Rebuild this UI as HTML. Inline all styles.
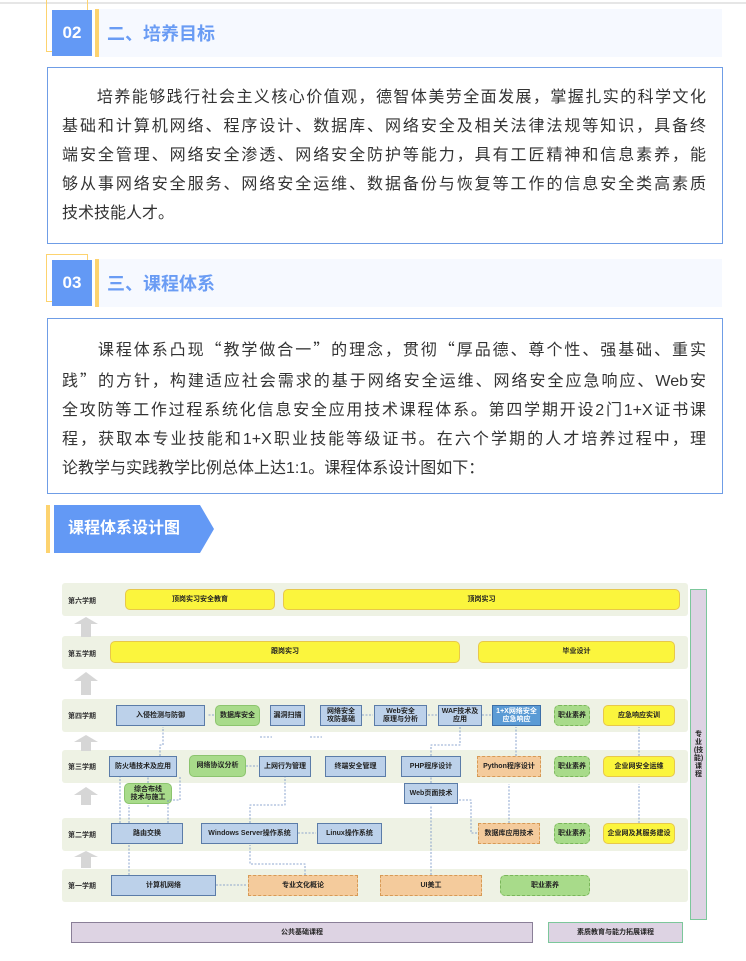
<!DOCTYPE html>
<html><head><meta charset="utf-8"><style>
*{margin:0;padding:0;box-sizing:border-box}
body{width:746px;height:961px;background:#fff;position:relative;overflow:hidden;font-family:"Liberation Sans","Noto Sans CJK SC",sans-serif}
.a{position:absolute}
.num{background:#6399f5;color:#fff;font-weight:bold;font-size:17px;display:flex;align-items:center;justify-content:center}
.ttl{color:#6a9cf4;font-weight:bold;font-size:18px;background:#f6f9ff;padding-left:8px;display:flex;align-items:center;border-left:4px solid #fdd36f}
.box{border:1px solid #6f9de6}
.p{font-size:16px;color:#333;line-height:29px;letter-spacing:0}
.p div{text-align:justify;text-align-last:justify;white-space:nowrap}
.p div.l{text-align-last:left}
.q{font-family:"Noto Sans CJK SC",sans-serif}
.row{background:#eef2e4;border-radius:3px}
.sem{font-size:7px;font-weight:bold;color:#333}
.n{display:flex;align-items:center;justify-content:center;text-align:center;font-size:7px;font-weight:bold;color:#222;line-height:8px}
.b{background:#bcd1ea;border:1.5px solid #5b7ca8}
.y{background:#fbf53d;border:1.5px solid #e8c84a;border-radius:5px}
.g{background:#a8db8a;border:1.5px solid #8cc46e;border-radius:5px}
.gd{background:#a8db8a;border:1.5px dashed #7ab65a;border-radius:5px}
.o{background:#f4cb9c;border:1.5px dashed #d79a55}
</style></head><body>
<div class="a" style="left:0;top:2px;width:746px;height:2px;background:#e6e6e6"></div>

<!-- header 02 -->
<div class="a" style="left:46px;top:0;width:42px;height:52px;border:1px solid #fdd36f;border-top:none"></div>
<div class="a num" style="left:52px;top:10px;width:40px;height:46px">02</div>
<div class="a ttl" style="left:95px;top:9px;width:627px;height:48px">二、培养目标</div>
<div class="a box" style="left:47px;top:67px;width:676px;height:177px"></div>
<div class="a p" style="left:62px;top:83px;width:644px">
<div>　　培养能够践行社会主义核心价值观，德智体美劳全面发展，掌握扎实的科学文化</div>
<div>基础和计算机网络、程序设计、数据库、网络安全及相关法律法规等知识，具备终</div>
<div>端安全管理、网络安全渗透、网络安全防护等能力，具有工匠精神和信息素养，能</div>
<div>够从事网络安全服务、网络安全运维、数据备份与恢复等工作的信息安全类高素质</div>
<div class="l">技术技能人才。</div>
</div>

<!-- header 03 -->
<div class="a" style="left:46px;top:254px;width:42px;height:48px;border:1px solid #fdd36f"></div>
<div class="a num" style="left:52px;top:260px;width:40px;height:46px">03</div>
<div class="a ttl" style="left:95px;top:259px;width:627px;height:48px">三、课程体系</div>
<div class="a box" style="left:47px;top:318px;width:676px;height:176px"></div>
<div class="a p" style="left:62px;top:334px;width:644px">
<div>　　课程体系凸现<span class="q">“</span>教学做合一<span class="q">”</span>的理念，贯彻<span class="q">“</span>厚品德、尊个性、强基础、重实</div>
<div>践<span class="q">”</span>的方针，构建适应社会需求的基于网络安全运维、网络安全应急响应、Web安</div>
<div>全攻防等工作过程系统化信息安全应用技术课程体系。第四学期开设2门1+X证书课</div>
<div>程，获取本专业技能和1+X职业技能等级证书。在六个学期的人才培养过程中，理</div>
<div class="l">论教学与实践教学比例总体上达1:1。课程体系设计图如下：</div>
</div>

<!-- banner -->
<div class="a" style="left:46px;top:505px;width:4px;height:48px;background:#fdd36f"></div>
<svg class="a" style="left:54px;top:505px" width="162" height="48"><polygon points="0,0 146,0 160,24 146,48 0,48" fill="#6399f5"/></svg>
<div class="a" style="left:68px;top:505px;height:48px;line-height:48px;color:#fff;font-weight:bold;font-size:16px">课程体系设计图</div>

<!-- diagram rows -->
<div class="a row" style="left:62px;top:583px;width:626px;height:33px"></div>
<div class="a row" style="left:62px;top:636px;width:626px;height:33px"></div>
<div class="a row" style="left:62px;top:699px;width:626px;height:33px"></div>
<div class="a row" style="left:62px;top:750px;width:626px;height:33px"></div>
<div class="a row" style="left:62px;top:818px;width:626px;height:33px"></div>
<div class="a row" style="left:62px;top:869px;width:626px;height:33px"></div>

<div class="a sem" style="left:68px;top:596px">第六学期</div>
<div class="a sem" style="left:68px;top:649px">第五学期</div>
<div class="a sem" style="left:68px;top:711px">第四学期</div>
<div class="a sem" style="left:68px;top:762px">第三学期</div>
<div class="a sem" style="left:68px;top:830px">第二学期</div>
<div class="a sem" style="left:68px;top:881px">第一学期</div>

<svg class="a" style="left:72px;top:615px" width="28" height="260">
<g fill="#d6d6d6">
<polygon points="14,2 26,9 19,9 19,22 9,22 9,9 2,9"/>
<polygon points="14,57 26,66 19,66 19,80 9,80 9,66 2,66"/>
<polygon points="14,120 26,127 19,127 19,136 9,136 9,127 2,127"/>
<polygon points="14,172 26,180 19,180 19,190 9,190 9,180 2,180"/>
<polygon points="14,236 26,242 19,242 19,253 9,253 9,242 2,242"/>
</g></svg>

<div class="a n y" style="left:125px;top:589px;width:150px;height:21px">顶岗实习安全教育</div>
<div class="a n y" style="left:283px;top:589px;width:397px;height:21px">顶岗实习</div>
<div class="a n y" style="left:110px;top:641px;width:350px;height:22px">跟岗实习</div>
<div class="a n y" style="left:478px;top:641px;width:197px;height:22px">毕业设计</div>
<div class="a n b" style="left:116px;top:705px;width:89px;height:21px">入侵检测与防御</div>
<div class="a n g" style="left:215px;top:705px;width:45px;height:21px">数据库安全</div>
<div class="a n b" style="left:270px;top:705px;width:35px;height:21px">漏洞扫描</div>
<div class="a n b" style="left:320px;top:705px;width:42px;height:21px">网络安全<br>攻防基础</div>
<div class="a n b" style="left:374px;top:705px;width:53px;height:21px">Web安全<br>原理与分析</div>
<div class="a n b" style="left:438px;top:705px;width:44px;height:21px">WAF技术及<br>应用</div>
<div class="a n" style="left:492px;top:705px;width:49px;height:21px;background:#5b9bd5;border:1.5px solid #3d6fa8;color:#fff">1+X网络安全<br>应急响应</div>
<div class="a n gd" style="left:554px;top:705px;width:36px;height:21px">职业素养</div>
<div class="a n y" style="left:603px;top:705px;width:72px;height:21px">应急响应实训</div>
<div class="a n b" style="left:109px;top:756px;width:68px;height:21px">防火墙技术及应用</div>
<div class="a n g" style="left:189px;top:755px;width:57px;height:22px">网络协议分析</div>
<div class="a n b" style="left:259px;top:756px;width:52px;height:21px">上网行为管理</div>
<div class="a n b" style="left:325px;top:756px;width:61px;height:21px">终端安全管理</div>
<div class="a n b" style="left:401px;top:756px;width:60px;height:21px">PHP程序设计</div>
<div class="a n o" style="left:477px;top:756px;width:64px;height:21px">Python程序设计</div>
<div class="a n gd" style="left:554px;top:756px;width:36px;height:21px">职业素养</div>
<div class="a n y" style="left:603px;top:756px;width:72px;height:21px">企业网安全运维</div>
<div class="a n g" style="left:124px;top:783px;width:48px;height:21px">综合布线<br>技术与施工</div>
<div class="a n b" style="left:404px;top:783px;width:54px;height:21px">Web页面技术</div>
<div class="a n b" style="left:111px;top:823px;width:72px;height:21px">路由交换</div>
<div class="a n b" style="left:201px;top:823px;width:97px;height:21px">Windows Server操作系统</div>
<div class="a n b" style="left:317px;top:823px;width:65px;height:21px">Linux操作系统</div>
<div class="a n o" style="left:478px;top:823px;width:62px;height:21px">数据库应用技术</div>
<div class="a n gd" style="left:554px;top:823px;width:36px;height:21px">职业素养</div>
<div class="a n y" style="left:603px;top:823px;width:72px;height:21px">企业网及其服务建设</div>
<div class="a n b" style="left:111px;top:875px;width:105px;height:21px">计算机网络</div>
<div class="a n o" style="left:248px;top:875px;width:110px;height:21px">专业文化概论</div>
<div class="a n o" style="left:380px;top:875px;width:102px;height:21px">UI美工</div>
<div class="a n gd" style="left:500px;top:875px;width:90px;height:21px">职业素养</div>

<div class="a n" style="left:71px;top:922px;width:462px;height:21px;background:#ddd3e3;border:1.5px solid #8a7f98">公共基础课程</div>
<div class="a n" style="left:548px;top:922px;width:135px;height:21px;background:#ddd3e3;border:1.5px solid #7cc79b">素质教育与能力拓展课程</div>
<div class="a n" style="left:690px;top:589px;width:17px;height:331px;background:#ddd3e3;border:1.5px solid #7cc79b;padding:0 1px">专<br>业<br>(技<br>能)<br>课<br>程</div>

<svg class="a" style="left:0;top:0" width="746" height="961">
<g stroke="#6f8fc4" stroke-width="0.8" stroke-dasharray="2,1.5" fill="none">
<path d="M129 875V845M129 823V805"/>
<path d="M120 823V777M148 807V804M148 783V777"/>
<path d="M168 823V800H180V777"/>
<path d="M216 885H246"/>
<path d="M305 875V864H250V845"/>
<path d="M250 823V805H285V777"/>
<path d="M298 833H316"/>
<path d="M246 766H258"/>
<path d="M160 756V745H163V727"/>
<path d="M214 715H207"/>
<path d="M362 715H373M428 715H437M482 715H491"/>
<path d="M260 737H272M310 737H322"/>
<path d="M431 875V805M431 783V777"/>
<path d="M431 756V745H460V727"/>
<path d="M477 833H471V800H459"/>
<path d="M509 823V784"/>
<path d="M516 756V727"/>
<path d="M639 823V784"/>
<path d="M639 756V727"/>
</g></svg>
</body></html>
